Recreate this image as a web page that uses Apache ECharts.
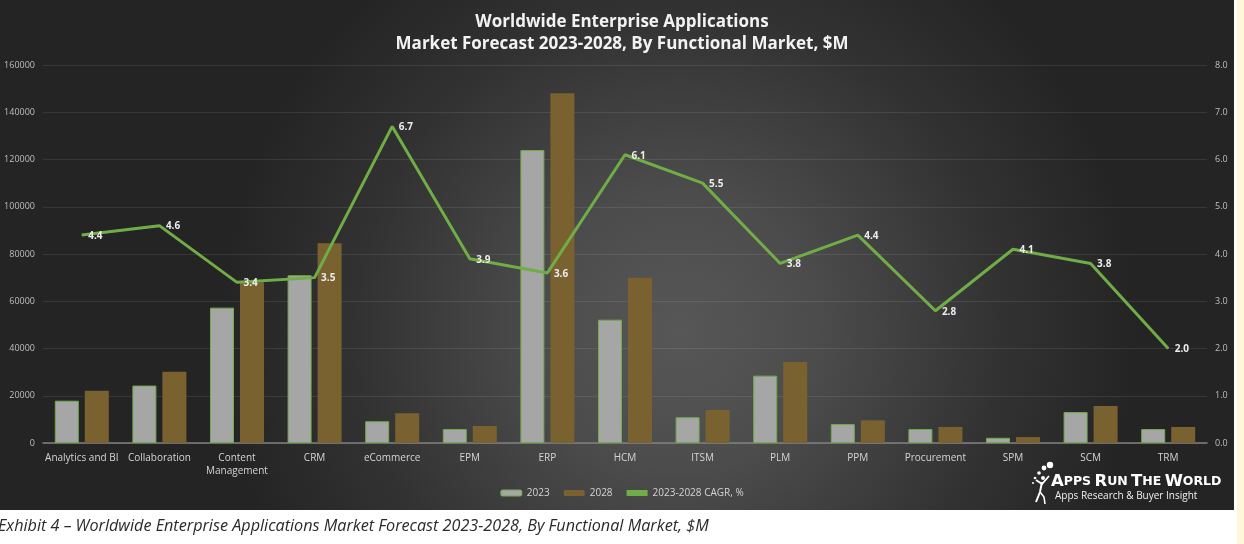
<!DOCTYPE html>
<html>
<head>
<meta charset="utf-8">
<script src="https://cdn.jsdelivr.net/npm/echarts@6/dist/echarts.min.js"></script>
<style>
html,body{margin:0;padding:0;background:#fff;}
#chart{width:1244px;height:544px;}
</style>
</head>
<body>
<div id="chart"></div>
<script>
var categories = ['Analytics and BI','Collaboration','Content\nManagement','CRM','eCommerce','EPM','ERP','HCM','ITSM','PLM','PPM','Procurement','SPM','SCM','TRM'];
var values2023 = [17900, 24300, 57300, 71000, 9200, 5900, 124000, 52200, 10900, 28500, 8000, 5900, 2200, 13100, 5900];
var values2028 = [22100, 30200, 68000, 84500, 12600, 7200, 148000, 70000, 14000, 34300, 9600, 6800, 2500, 15700, 6800];
var cagr = [4.4, 4.6, 3.4, 3.5, 6.7, 3.9, 3.6, 6.1, 5.5, 3.8, 4.4, 2.8, 4.1, 3.8, 2.0];
var leftTicks = {min: 0, max: 160000, interval: 20000};
var rightTicks = {min: 0, max: 8, interval: 1};

var chart = echarts.init(document.getElementById('chart'), null, {renderer: 'canvas'});
var font = '"Open Sans", "DejaVu Sans", sans-serif';
var option = {
  backgroundColor: '#ffffff',
  animation: false,
  textStyle: {fontFamily: font},
  title: {
    text: 'Worldwide Enterprise Applications\nMarket Forecast 2023-2028, By Functional Market, $M',
    left: 'center', top: 6,
    textStyle: {color: '#f2f2f2', fontSize: 17, fontWeight: 'bold', lineHeight: 22, fontFamily: font}
  },
  graphic: [
    {type: 'rect', z: -10, silent: true, shape: {x: 0, y: 0, width: 1234, height: 510},
     style: {fill: new echarts.graphic.RadialGradient(0.55, 0.65, 0.9, [
       {offset: 0, color: '#575757'}, {offset: 0.3, color: '#4c4c4c'}, {offset: 0.7, color: '#323232'}, {offset: 1, color: '#242424'}])}},
    {type: 'rect', z: -10, silent: true, shape: {x: 1237, y: 0, width: 7, height: 544}, style: {fill: '#fff6dc'}},
    {type: 'text', left: -2, top: 518, z: 10,
     style: {text: 'Exhibit 4 \u2013 Worldwide Enterprise Applications Market Forecast 2023-2028, By Functional Market, $M',
       fill: '#2a2a2a', font: 'italic 16.2px "Open Sans", sans-serif'}},
    // logo
    {type: 'group', z: 10, children: [
      {type: 'circle', shape: {cx: 1050, cy: 465, r: 3.2}, style: {fill: '#fff'}},
      {type: 'circle', shape: {cx: 1044, cy: 468, r: 2.4}, style: {fill: '#fff'}},
      {type: 'circle', shape: {cx: 1039, cy: 473, r: 1.8}, style: {fill: '#fff'}},
      {type: 'circle', shape: {cx: 1035, cy: 478, r: 1.3}, style: {fill: '#fff'}},
      {type: 'circle', shape: {cx: 1033, cy: 483, r: 1}, style: {fill: '#fff'}},
      {type: 'circle', shape: {cx: 1043, cy: 478, r: 2}, style: {fill: '#fff'}},
      {type: 'polyline', shape: {points: [[1036, 480], [1042, 484], [1049, 476]]}, style: {stroke: '#fff', lineWidth: 1.8, fill: null}},
      {type: 'polyline', shape: {points: [[1042, 482], [1040, 492], [1036, 502]]}, style: {stroke: '#fff', lineWidth: 2, fill: null}},
      {type: 'polyline', shape: {points: [[1040, 492], [1044, 497], [1045, 504]]}, style: {stroke: '#fff', lineWidth: 1.6, fill: null}},
      {type: 'text', x: 1051, y: 473,
       style: {text: '{b|A}{s|PPS} {b|R}{s|UN} {b|T}{s|HE} {b|W}{s|ORLD}', fill: '#fff',
         rich: {b: {fontSize: 16.5, fontWeight: 'bold', fill: '#fff', fontFamily: '"DejaVu Sans", sans-serif'},
                s: {fontSize: 12.5, fontWeight: 'bold', fill: '#fff', fontFamily: '"DejaVu Sans", sans-serif'}}}},
      {type: 'text', x: 1055, y: 491, style: {text: 'Apps Research & Buyer Insight', fill: '#f0f0f0', font: '10px "Open Sans", sans-serif'}}
    ]}
  ],
  legend: {
    bottom: 41, left: 'center', itemWidth: 21, itemHeight: 6, itemGap: 14,
    textStyle: {color: '#d4d4d4', fontSize: 10, fontFamily: font},
    data: [
      {name: '2023', itemStyle: {color: '#a6a6a6', borderColor: '#70ad47', borderWidth: 1}},
      {name: '2028', itemStyle: {color: '#7a6230'}},
      {name: '2023-2028 CAGR, %', icon: 'rect', itemStyle: {color: '#70ad47'}}
    ]
  },
  grid: {left: 43, right: 37, top: 65, bottom: 101, containLabel: false},
  xAxis: {
    type: 'category', data: categories,
    axisLine: {lineStyle: {color: '#808080', width: 1.5}},
    axisTick: {show: false},
    axisLabel: {color: '#d4d4d4', fontSize: 10, margin: 9, lineHeight: 13, interval: 0, fontFamily: font}
  },
  yAxis: [
    {type: 'value', min: leftTicks.min, max: leftTicks.max, interval: leftTicks.interval,
     axisLine: {show: false}, axisTick: {show: false},
     axisLabel: {color: '#bfbfbf', fontSize: 9, margin: 8, fontFamily: font, formatter: function (v) { return String(v); }},
     splitLine: {lineStyle: {color: 'rgba(255,255,255,0.09)', width: 1}}},
    {type: 'value', min: rightTicks.min, max: rightTicks.max, interval: rightTicks.interval,
     axisLine: {show: false}, axisTick: {show: false},
     axisLabel: {color: '#bfbfbf', fontSize: 9, margin: 8, fontFamily: font, formatter: function (v) { return v.toFixed(1); }},
     splitLine: {show: false}}
  ],
  series: [
    {name: '2023', type: 'bar', data: values2023, barWidth: 24, barGap: '25%',
     itemStyle: {color: '#a6a6a6', borderColor: '#70ad47', borderWidth: 1}},
    {name: '2028', type: 'bar', data: values2028, barWidth: 24, barGap: '25%',
     itemStyle: {color: '#7a6230'}},
    {name: '2023-2028 CAGR, %', type: 'line', yAxisIndex: 1, data: cagr,
     showSymbol: true, symbol: 'circle', symbolSize: 1, z: 5,
     lineStyle: {color: '#70ad47', width: 3},
     itemStyle: {color: '#70ad47'},
     label: {show: true, position: 'right', distance: 6, offset: [0, 1], color: '#ececec', fontSize: 10, fontWeight: 'bold', fontFamily: font,
       formatter: function (p) { return p.value.toFixed(1); }}}
  ]
};
chart.setOption(option);
</script>
</body>
</html>
